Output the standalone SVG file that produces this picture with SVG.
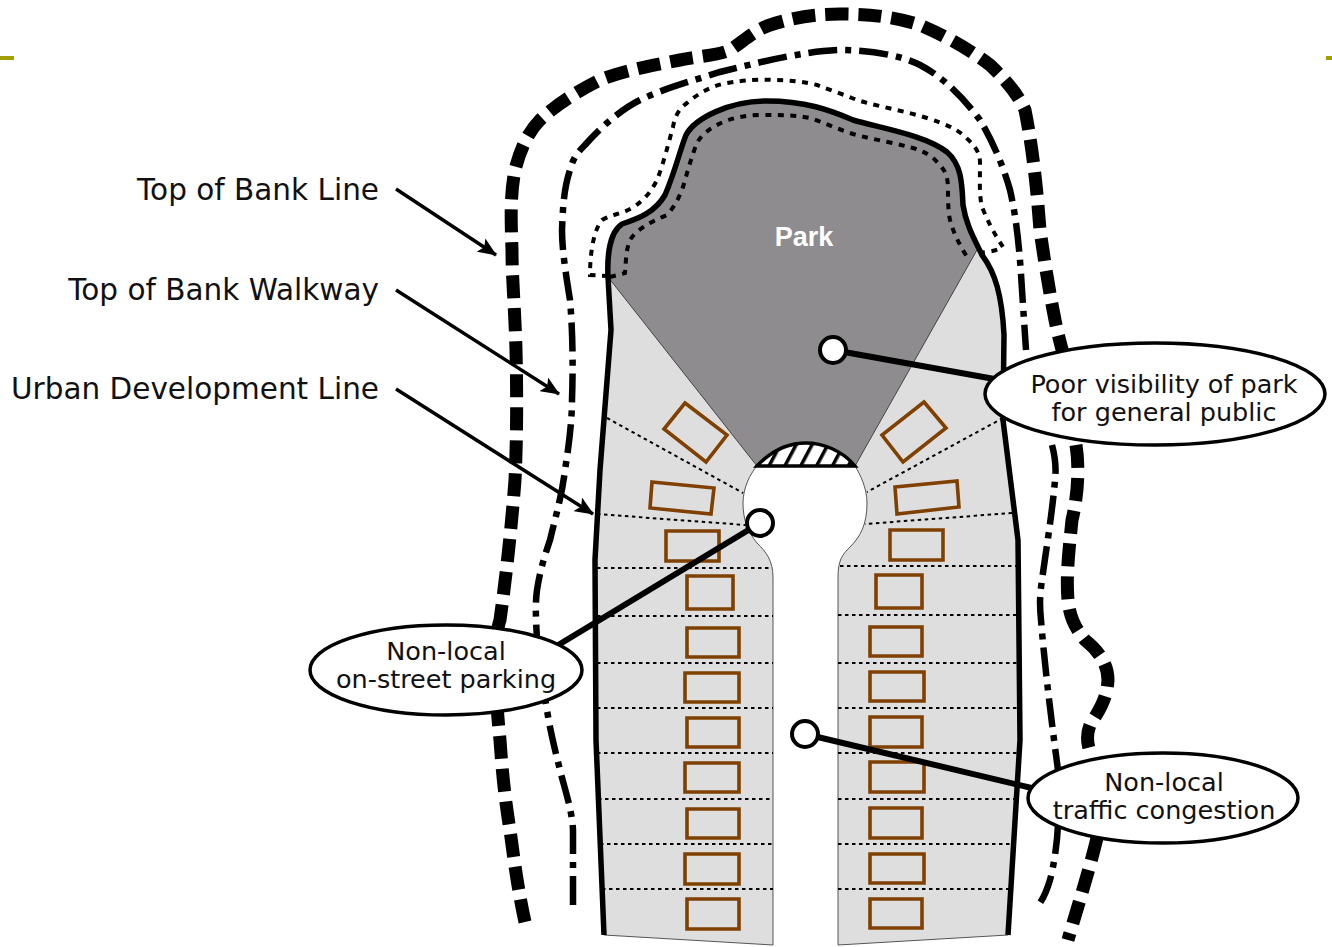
<svg xmlns="http://www.w3.org/2000/svg" width="1332" height="947" viewBox="0 0 1332 947">
<style>
text{font-family:"DejaVu Sans",sans-serif;fill:#111}
.lab{font-size:29.5px;text-anchor:end}
.call{font-size:25.5px;text-anchor:middle}
.b{fill:none;stroke:#000;stroke-width:5.5;stroke-linejoin:round}
.bank{fill:none;stroke:#000;stroke-width:13;stroke-dasharray:23 10}
.walk{fill:none;stroke:#000;stroke-width:6.5;stroke-dasharray:29 8 6 8}
.dot{fill:none;stroke:#000;stroke-width:4;stroke-dasharray:6 6.5}
.lot{fill:none;stroke:#000;stroke-width:2;stroke-dasharray:3.5 3.5}
.car{fill:none;stroke:#7f4000;stroke-width:3.6}
.lead{stroke:#000;stroke-width:6;fill:none}
.arr{stroke:#000;stroke-width:3.5;fill:none;marker-end:url(#ah)}
.pt{fill:#fff;stroke:#000;stroke-width:4}
.bub{fill:#fff;stroke:#000;stroke-width:3.5}
</style>
<defs>
<marker id="ah" markerUnits="userSpaceOnUse" markerWidth="20" markerHeight="16" refX="18" refY="8" orient="auto"><path d="M0,0L19,8L0,16L4,8Z" fill="#000"/></marker>
<pattern id="h" patternUnits="userSpaceOnUse" width="14" height="20" patternTransform="rotate(28)"><rect width="14" height="20" fill="#fff"/><rect width="3.5" height="20" fill="#000"/></pattern>
</defs>
<g id="marks"><rect x="0" y="56" width="14" height="4" fill="#a0a000"/><rect x="1326" y="56" width="6" height="4" fill="#a0a000"/></g>

<g id="ground">
<path d="M604,935L596,740L595,560L600,470L611,330L608,277C607,255 610,232 622,224C640,218 655,212 665,195C675,172 680,150 686,135C695,118 730,101 767,101C805,101 830,110 853,120C880,128 925,135 947,152C962,165 962,185 963,205C966,225 975,240 982,255C995,272 1002,295 1004,335L1003,420L1018,540L1020,740L1008,935L838,945L838,578C838,560 842,555 850,547C860,537 867,525 867,503C867,488 860,474 855,466L757,466C750,474 743,488 743,503C743,520 748,532 757,543C766,552 773,560 773,578L773,945Z" fill="#dedede" stroke="#555" stroke-width="1"/>
</g>
<g id="park">
<path d="M608,277C607,255 610,232 622,224C640,218 655,212 665,195C675,172 680,150 686,135C695,118 730,101 767,101C805,101 830,110 853,120C880,128 925,135 947,152C962,165 962,185 963,205C966,225 972,238 977,250L855,466L757,466Z" fill="#8e8c8e" stroke="#444" stroke-width="1"/>
<path d="M757,466C772,450 790,443 806,443C822,443 842,450 855,466Z" fill="url(#h)" stroke="#000" stroke-width="3.5"/>
<text x="804" y="246" text-anchor="middle" style="font-family:'Liberation Sans',sans-serif;font-weight:bold;font-size:27px;fill:#fff">Park</text>
</g>
<g id="lots">
<path class="lot" d="M607,418L743,493M597,514L745,525M597,568H772M597,616H773M597,663H773M597,708H773M597,753H773M598,799H773M600,844H773M602,889H773"/>
<path class="lot" d="M1003,418L867,492M1012,513L865,524M840,566H1016M838,615H1018M838,663H1019M838,708H1020M838,753H1019M838,799H1017M838,844H1014M838,889H1011"/>
</g>
<g id="cars">
<path class="car" d="M685,403L727,435L706,462L664,429ZM652,482L714,488L711,514L650,508ZM924,402L946,428L903,462L882,435ZM895,487L957,481L959,507L897,514Z"/>
<path class="car" d="M666,531H719V561H666ZM687,576H733V609H687ZM687,628H739V657H687ZM685,673H739V702H685ZM687,718H739V747H687ZM685,763H739V792H685ZM687,809H739V838H687ZM685,854H739V884H685ZM687,899H739V929H687Z"/>
<path class="car" d="M890,530H943V560H890ZM876,575H922V608H876ZM870,627H922V656H870ZM870,672H924V701H870ZM870,717H922V747H870ZM870,762H924V792H870ZM870,808H922V838H870ZM870,854H924V883H870ZM870,899H922V928H870Z"/>
</g>
<g id="connectors">
<path class="b" d="M604,935L596,740L595,560L600,470L611,330L608,277C607,255 610,232 622,224C640,218 655,212 665,195C675,172 680,150 686,135C695,118 730,101 767,101C805,101 830,110 853,120C880,128 925,135 947,152C962,165 962,185 963,205C966,225 975,240 982,255C995,272 1002,295 1004,335L1003,420L1018,540L1020,740L1008,935"/>
<path class="dot" d="M610,277L625,273C626,260 626,250 630,240C636,230 650,222 667,215C676,205 680,195 683,187C688,170 692,155 697,143C705,128 730,115 760,115C780,115 795,115 810,118C825,123 840,130 853,134C875,140 895,143 913,148C925,152 932,156 937,162C945,170 948,175 948,190C948,200 948,210 950,220C954,235 960,245 967,257"/>
<path class="dot" d="M608,276L590,275C590,260 592,232 602,220C612,214 622,214 632,208C645,200 652,190 657,180C663,165 668,145 673,127C675,115 680,108 687,103C700,92 712,86 727,83C745,80 760,79 773,80C790,80 805,82 817,85C830,90 845,95 857,100C880,107 905,111 927,118C945,124 955,128 963,135C972,143 980,150 980,163C980,180 979,195 982,207C988,222 995,235 1003,247C995,252 985,252 977,253"/>
<path class="walk" d="M573,905L573,830C572,810 565,790 560,770C555,750 550,730 547,710C543,685 538,660 537,640C536,620 535,605 537,590C540,570 545,555 550,540C556,515 562,495 565,470C569,445 572,420 572,400C573,370 573,335 570,300C566,275 562,250 562,230C563,200 565,185 570,170C573,158 578,152 585,145C600,128 620,110 640,100C665,88 695,80 720,72C760,62 805,51 840,50C870,50 900,55 920,65C945,78 965,100 980,120C992,140 1003,165 1010,190C1017,220 1020,255 1022,290L1026,350"/>
<path class="walk" d="M1052,445C1056,460 1056,470 1055,480C1052,515 1046,550 1042,580C1039,600 1040,610 1041,620C1045,670 1052,725 1058,770"/>
<path class="walk" d="M1058,825C1057,845 1054,865 1050,880C1047,890 1044,897 1040,903"/>
<path class="bank" d="M525,922C518,890 514,860 510,830C505,800 502,770 500,740C497,710 495,680 495,660C495,640 497,630 500,620C507,570 512,520 515,480C517,440 517,390 516,350C515,310 512,280 512,250C511,220 510,195 515,170C520,150 528,132 540,120C558,103 580,90 600,80C625,70 655,65 680,60C700,56 720,55 730,50C745,40 755,30 770,25C795,17 815,14 840,14C870,14 895,17 920,25C950,38 970,50 990,65C1008,82 1018,95 1025,110C1033,150 1037,190 1040,230C1045,265 1050,295 1055,320C1058,335 1062,350 1065,360"/>
<path class="bank" d="M1076,445C1080,470 1077,500 1072,520C1069,550 1066,575 1068,600C1070,620 1077,630 1085,640C1100,652 1108,665 1108,680C1107,700 1098,712 1090,725C1086,735 1087,742 1090,752"/>
<path class="bank" d="M1097,838C1088,875 1078,905 1068,940"/>
<line class="arr" x1="396" y1="189" x2="496" y2="255"/>
<line class="arr" x1="396" y1="290" x2="559" y2="394"/>
<line class="arr" x1="396" y1="389" x2="593" y2="514"/>
<line class="lead" x1="833" y1="350" x2="1000" y2="380"/>
<line class="lead" x1="760" y1="523" x2="550" y2="650"/>
<line class="lead" x1="805" y1="734" x2="1040" y2="790"/>
</g>
<g id="label-bank"><text class="lab" x="379" y="200">Top of Bank Line</text></g>
<g id="label-walkway"><text class="lab" x="379" y="300">Top of Bank Walkway</text></g>
<g id="label-urban"><text class="lab" x="379" y="399">Urban Development Line</text></g>
<g id="pt-park"><circle class="pt" cx="833" cy="350" r="13"/></g>
<g id="pt-parking"><circle class="pt" cx="760" cy="523" r="13"/></g>
<g id="pt-traffic"><circle class="pt" cx="805" cy="734" r="13"/></g>
<g id="note-park"><ellipse class="bub" cx="1155" cy="394" rx="170" ry="51"/><text class="call" x="1164" y="393">Poor visibility of park</text><text class="call" x="1164" y="421">for general public</text></g>
<g id="note-parking"><ellipse class="bub" cx="446" cy="670" rx="136" ry="45"/><text class="call" x="446" y="660">Non-local</text><text class="call" x="446" y="688">on-street parking</text></g>
<g id="note-traffic"><ellipse class="bub" cx="1163" cy="798" rx="135" ry="45"/><text class="call" x="1164" y="791">Non-local</text><text class="call" x="1164" y="819">traffic congestion</text></g>
</svg>
